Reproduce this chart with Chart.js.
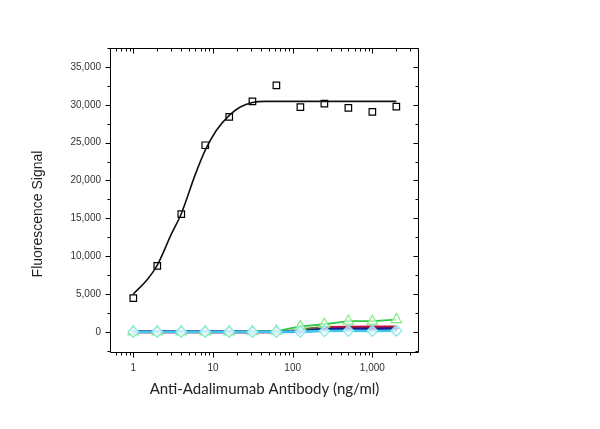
<!DOCTYPE html>
<html lang="en">
<head>
<meta charset="UTF-8">
<title>Anti-Adalimumab dose response</title>
<script src="https://cdn.jsdelivr.net/npm/chart.js"></script>
<style>
  html, body { margin: 0; padding: 0; background: #fff; }
</style>
</head>
<body>
<canvas id="myChart" width="600" height="429"></canvas>
<script>
// concentrations (ng/ml)
var conc = [1, 2, 4, 8, 16, 31.25, 62.5, 125, 250, 500, 1000, 2000];
// measured signal, open squares
var signal = [4450, 8700, 15550, 24650, 28400, 30450, 32550, 29700, 30150, 29600, 29050, 29750];
// fitted curve, points
var fitX = [1, 1.5, 2, 3, 4, 6, 8, 11, 16, 22, 31.25, 45, 100, 2000];
var fitY = [5000, 6900, 8800, 12900, 15600, 20800, 24000, 26600, 28600, 29700, 30300, 30450, 30450, 30450];
// controls near zero
var ctrlGreen = [0, 0, 0, 0, 0, 50, 100, 720, 1000, 1420, 1400, 1620];
var ctrlOlive = [null, null, null, null, null, null, null, 300, 600, null, null, null];
var ctrlRed = [0, 0, 0, 0, 0, 0, 0, 150, 580, 600, 620, 650];
var ctrlNavy = [0, 0, 0, 0, 0, 0, 0, 80, 380, 420, 400, 450];
var ctrlBlue = [0, 0, 0, 0, 0, 0, 0, 50, 250, 260, 250, 280];
var ctrlCyan = [0, 0, 0, 0, 0, 0, 0, 30, 100, 130, 120, 150];
var ctrlMint = [null, null, null, 0, 0, 0, null, null, null, null, null, null];
var ctrlGray = [0, 0, 0, 0, null, null, null, null, null, null, null, null];

var xTicks = [1, 10, 100, 1000];
var yTicks = [0, 5000, 10000, 15000, 20000, 25000, 30000, 35000];

function pts(arr) {
    return conc.map(function (c, i) { return { x: c, y: arr[i] }; });
}

var axisFrame = {
    id: 'axisFrame',
    afterDraw: function (chart) {
        var ctx = chart.ctx, a = chart.chartArea;
        var x = chart.scales.x, y = chart.scales.y;
        ctx.save();
        ctx.strokeStyle = '#000';
        ctx.lineWidth = 1;
        var L = Math.round(a.left) + 0.5, R = Math.round(a.right) - 0.5;
        var T = Math.round(a.top) + 0.5, B = Math.round(a.bottom) - 0.5;
        ctx.beginPath();
        ctx.rect(L, T, R - L, B - T);
        // x ticks: bottom outward, top inward
        for (var d = 0.1; d <= 1000; d *= 10) {
            for (var m = 1; m <= 9; m++) {
                var v = d * m;
                if (v < x.min || v > x.max) continue;
                var px = Math.round(x.getPixelForValue(v)) + 0.5;
                var len = m === 1 ? 5 : 3;
                ctx.moveTo(px, B); ctx.lineTo(px, B + len);
                ctx.moveTo(px, T); ctx.lineTo(px, T + len);
            }
        }
        // y ticks: left outward, right inward
        for (var w = -2500; w <= 37500; w += 2500) {
            if (w < y.min || w > y.max) continue;
            var py = Math.round(y.getPixelForValue(w)) + 0.5;
            var ln = w % 5000 === 0 ? 5 : 3;
            ctx.moveTo(L - ln, py); ctx.lineTo(L, py);
            ctx.moveTo(R - ln, py); ctx.lineTo(R, py);
        }
        ctx.stroke();

        // axis titles
        ctx.fillStyle = '#222';
        ctx.textAlign = 'center';
        ctx.textBaseline = 'middle';
        ctx.font = '15px Lato';
        ctx.fillText('Anti-Adalimumab Antibody (ng/ml)', (a.left + a.right) / 2, 389);
        ctx.translate(38, 214);
        ctx.rotate(-Math.PI / 2);
        ctx.font = '14px "Liberation Sans"';
        ctx.fillText('Fluorescence Signal', 0, 0);
        ctx.restore();
    }
};

var tickFont = { family: '"Liberation Sans", Arial', size: 10 };

var config = {
    type: 'scatter',
    data: {
        datasets: [
            {
                label: 'Control cyan',
                data: pts(ctrlCyan),
                showLine: true,
                borderColor: '#3cc8ee',
                borderWidth: 2.5,
                pointStyle: 'rectRot',
                pointRadius: 5.5,
                pointBorderColor: '#7fe6e6',
                pointBackgroundColor: 'rgba(255,255,255,0.7)',
                pointBorderWidth: 1.2
            },
            {
                label: 'Control green',
                data: pts(ctrlGreen),
                showLine: true,
                borderColor: '#33c84a',
                borderWidth: 1.8,
                pointStyle: 'triangle',
                pointRadius: 6,
                pointBorderColor: '#80ec80',
                pointBackgroundColor: 'rgba(255,255,255,0.6)',
                pointBorderWidth: 1.2
            },
            {
                label: 'Control navy',
                data: pts(ctrlNavy),
                showLine: true,
                borderColor: '#1c1c8a',
                borderWidth: 2.5,
                pointStyle: 'cross',
                pointRadius: 3,
                pointBorderColor: '#1c1c8a',
                pointBorderWidth: 1.2
            },
            {
                label: 'Control olive',
                data: pts(ctrlOlive),
                showLine: true,
                borderColor: '#6e6a2a',
                borderWidth: 2.5,
                pointRadius: 0
            },
            {
                label: 'Control red',
                data: pts(ctrlRed),
                showLine: true,
                borderColor: '#c8143c',
                borderWidth: 3,
                pointRadius: 0
            },
            {
                label: 'Control blue',
                data: pts(ctrlBlue),
                showLine: true,
                borderColor: '#2266cc',
                borderWidth: 3,
                pointRadius: 0
            },
            {
                label: 'Control mint',
                data: pts(ctrlMint),
                showLine: true,
                borderColor: '#44dca0',
                borderWidth: 3,
                pointRadius: 0
            },
            {
                label: 'Control gray',
                data: pts(ctrlGray),
                showLine: true,
                borderColor: '#6a6a6a',
                borderWidth: 2.5,
                pointRadius: 0
            },
            {
                label: 'Fit',
                data: fitX.map(function (v, i) { return { x: v, y: fitY[i] }; }),
                showLine: true,
                borderColor: '#111',
                borderWidth: 1.6,
                cubicInterpolationMode: 'monotone',
                pointRadius: 0
            },
            {
                label: 'Signal',
                data: pts(signal),
                showLine: false,
                pointStyle: 'rect',
                pointRadius: 4.6,
                pointBorderColor: '#000',
                pointBackgroundColor: '#fff',
                pointBorderWidth: 1.2
            }
        ]
    },
    options: {
        responsive: false,
        animation: false,
        devicePixelRatio: 1,
        layout: { padding: { top: 48, right: 181, bottom: 0, left: 0 } },
        plugins: {
            legend: { display: false },
            tooltip: { enabled: false }
        },
        scales: {
            x: {
                type: 'logarithmic',
                min: 0.51,
                max: 3850,
                grid: { display: false, drawTicks: false },
                border: { display: false },
                afterBuildTicks: function (scale) {
                    scale.ticks = xTicks.map(function (v) { return { value: v }; });
                },
                afterFit: function (scale) { scale.height = 76; },
                ticks: {
                    autoSkip: false,
                    maxRotation: 0,
                    padding: 9,
                    color: '#333',
                    font: tickFont,
                    callback: function (v) { return Number(v).toLocaleString('en-US'); }
                }
            },
            y: {
                type: 'linear',
                min: -2800,
                max: 37500,
                grid: { display: false, drawTicks: false },
                border: { display: false },
                afterBuildTicks: function (scale) {
                    scale.ticks = yTicks.map(function (v) { return { value: v }; });
                },
                afterFit: function (scale) { scale.width = 110; },
                ticks: {
                    padding: 9,
                    color: '#333',
                    font: tickFont,
                    callback: function (v) { return Number(v).toLocaleString('en-US'); }
                }
            }
        }
    },
    plugins: [axisFrame]
};

var myChart = new Chart(document.getElementById('myChart'), config);
</script>
</body>
</html>
